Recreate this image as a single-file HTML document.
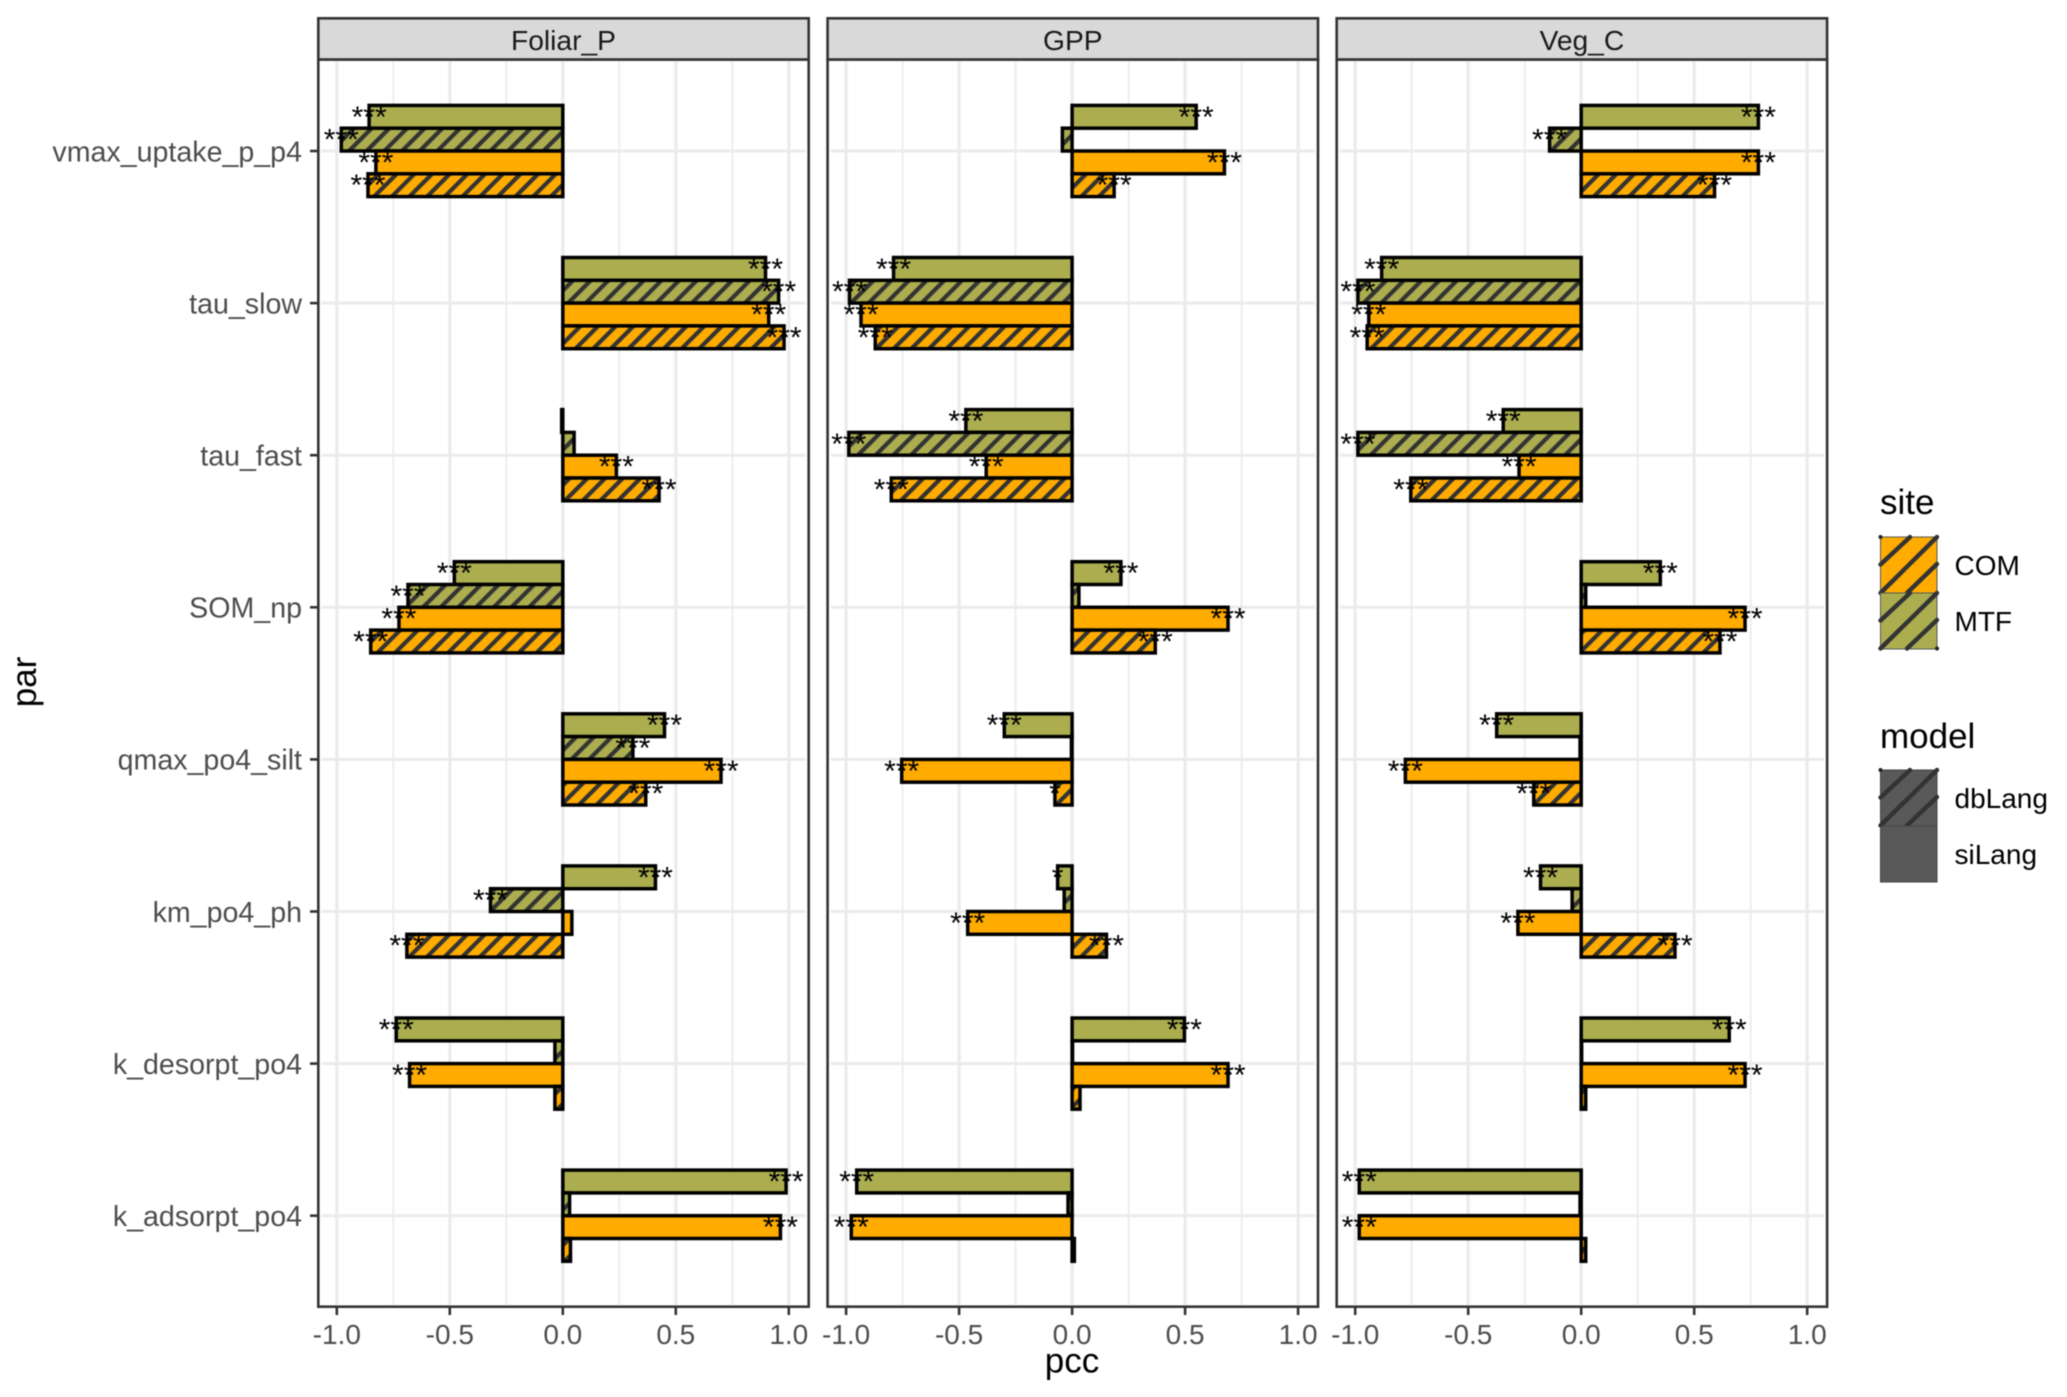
<!DOCTYPE html>
<html lang="en">
<head>
<meta charset="utf-8">
<title>pcc by par, site and model</title>
<style>
html,body{margin:0;padding:0;background:#fff;}
svg{display:block;font-family:"Liberation Sans",Arial,sans-serif;filter:blur(0.4px);}
</style>
</head>
<body>
<svg id="chart" xmlns="http://www.w3.org/2000/svg" width="2067" height="1397" viewBox="0 0 2067 1397">
  <defs>
    <pattern id="hatch" patternUnits="userSpaceOnUse" width="12.5" height="12.5" patternTransform="translate(2 0) rotate(-45)">
      <rect x="0" y="0" width="12.5" height="4.2" fill="#333333"></rect>
    </pattern>
  </defs>
  <rect x="0" y="0" width="2067" height="1397" fill="#ffffff"></rect>
  <g id="panels"></g>
  <g id="yaxis"></g>
  <text x="1072" y="1372.5" font-size="35" text-anchor="middle" fill="#000">pcc</text>
  <text transform="translate(36 682) rotate(-90)" font-size="35" text-anchor="middle" fill="#000">par</text>

  <g>
    <text x="1880" y="514" font-size="35" fill="#000">site</text>
    <g>
      <rect x="1880.5" y="537" width="56.5" height="56" fill="#FFAB00" stroke="#555" stroke-width="1"></rect>
      <g stroke="#333" stroke-width="4.4" stroke-linecap="round">
        <line x1="1880.5" y1="564.5" x2="1910" y2="537"></line>
        <line x1="1880.5" y1="593" x2="1937" y2="537"></line>
        <line x1="1907" y1="593" x2="1937" y2="564"></line>
      </g>
      <circle cx="1880.5" cy="537" r="2" fill="#222"></circle>
      <text x="1954.5" y="575" font-size="28" fill="#000">COM</text>
    </g>
    <g>
      <rect x="1880.5" y="593" width="56.5" height="56" fill="#ABAD4F" stroke="#555" stroke-width="1"></rect>
      <g stroke="#333" stroke-width="4.4" stroke-linecap="round">
        <line x1="1880.5" y1="620.5" x2="1910" y2="593"></line>
        <line x1="1880.5" y1="648.5" x2="1937" y2="593"></line>
        <line x1="1907" y1="648.5" x2="1937" y2="620"></line>
      </g>
      <circle cx="1937" cy="648.5" r="2" fill="#222"></circle>
      <text x="1954.5" y="631" font-size="28" fill="#000">MTF</text>
    </g>
  </g>

  <g>
    <text x="1880" y="748" font-size="35" fill="#000">model</text>
    <g>
      <rect x="1880.5" y="770" width="56.5" height="56" fill="#595959" stroke="#444" stroke-width="1"></rect>
      <g stroke="#333" stroke-width="4.4" stroke-linecap="round">
        <line x1="1880.5" y1="797.5" x2="1910" y2="770"></line>
        <line x1="1880.5" y1="825.5" x2="1937" y2="770"></line>
        <line x1="1907" y1="825.5" x2="1937" y2="797"></line>
      </g>
      <circle cx="1880.5" cy="770" r="2" fill="#222"></circle>
      <text x="1954.5" y="808" font-size="28" fill="#000">dbLang</text>
    </g>
    <g>
      <rect x="1880.5" y="826" width="56.5" height="56" fill="#595959" stroke="#444" stroke-width="1"></rect>
      <text x="1954.5" y="864" font-size="28" fill="#000">siLang</text>
    </g>
  </g>
</svg>

<script>
// ---- data (categories listed top to bottom) ----
const categories = ["vmax_uptake_p_p4","tau_slow","tau_fast","SOM_np","qmax_po4_silt","km_po4_ph","k_desorpt_po4","k_adsorpt_po4"];
const facetNames = ["Foliar_P","GPP","Veg_C"];
const xTickValues = [-1.0,-0.5,0.0,0.5,1.0];
const xTickLabels = ["-1.0","-0.5","0.0","0.5","1.0"];
const xMinorValues = [-0.75,-0.25,0.25,0.75];

const foliarMtfSiLang = [-0.857,0.897,-0.005,-0.48,0.45,0.41,-0.737,0.988];
const foliarMtfDbLang = [-0.98,0.955,0.05,-0.685,0.31,-0.32,-0.035,0.03];
const foliarComSiLang = [-0.827,0.911,0.237,-0.725,0.70,0.04,-0.678,0.963];
const foliarComDbLang = [-0.862,0.979,0.426,-0.85,0.367,-0.69,-0.035,0.034];

const gppMtfSiLang = [0.549,-0.79,-0.47,0.216,-0.30,-0.064,0.497,-0.953];
const gppMtfDbLang = [-0.043,-0.985,-0.988,0.03,-0.003,-0.035,0.002,-0.018];
const gppComSiLang = [0.674,-0.934,-0.38,0.69,-0.754,-0.462,0.69,-0.977];
const gppComDbLang = [0.186,-0.871,-0.80,0.368,-0.076,0.152,0.035,0.01];

const vegMtfSiLang = [0.784,-0.883,-0.345,0.35,-0.374,-0.18,0.655,-0.982];
const vegMtfDbLang = [-0.14,-0.988,-0.988,0.02,-0.005,-0.04,0.002,-0.005];
const vegComSiLang = [0.784,-0.94,-0.275,0.725,-0.778,-0.28,0.725,-0.982];
const vegComDbLang = [0.59,-0.947,-0.754,0.614,-0.21,0.415,0.02,0.02];

const foliarMtfSiSig = ["***","***","","***","***","***","***","***"];
const foliarMtfDbSig = ["***","***","","***","***","***","",""];
const foliarComSiSig = ["***","***","***","***","***","","***","***"];
const foliarComDbSig = ["***","***","***","***","***","***","",""];

const gppMtfSiSig = ["***","***","***","***","***","*","***","***"];
const gppMtfDbSig = ["","***","***","","","","",""];
const gppComSiSig = ["***","***","***","***","***","***","***","***"];
const gppComDbSig = ["***","***","***","***","*","***","",""];

const vegMtfSiSig = ["***","***","***","***","***","***","***","***"];
const vegMtfDbSig = ["***","***","***","","","","",""];
const vegComSiSig = ["***","***","***","***","***","***","***","***"];
const vegComDbSig = ["***","***","***","***","***","***","",""];

const seriesValues = [
  [foliarMtfSiLang,foliarMtfDbLang,foliarComSiLang,foliarComDbLang],
  [gppMtfSiLang,gppMtfDbLang,gppComSiLang,gppComDbLang],
  [vegMtfSiLang,vegMtfDbLang,vegComSiLang,vegComDbLang]
];
const seriesSig = [
  [foliarMtfSiSig,foliarMtfDbSig,foliarComSiSig,foliarComDbSig],
  [gppMtfSiSig,gppMtfDbSig,gppComSiSig,gppComDbSig],
  [vegMtfSiSig,vegMtfDbSig,vegComSiSig,vegComDbSig]
];
const seriesNames = ["mtf-silang","mtf-dblang","com-silang","com-dblang"];

// ---- layout ----
const NS = "http://www.w3.org/2000/svg";
const panelLefts = [318.3,827.6,1336.7];
const panelWidth = 490.4;
const panelTop = 59.5, panelBottom = 1306.7, stripTop = 18.3;
const zeroOffset = 244.5, unitPx = 226;
const catFirstY = 151, catStep = 152.1, barH = 22.8;
const colorOrange = "#FFAB00", colorOlive = "#ABAD4F", borderColor = "#333333";

function xPos(facet, v){ return panelLefts[facet] + zeroOffset + v * unitPx; }
function catY(i){ return catFirstY + i * catStep; }
function barTop(i, s){ return catY(i) + (s - 2) * barH; }

function make(tag, attrs, parent, text){
  const el = document.createElementNS(NS, tag);
  for (const k in attrs) el.setAttribute(k, attrs[k]);
  if (text !== undefined) el.textContent = text;
  parent.appendChild(el);
  return el;
}

const panelsG = document.getElementById("panels");
const yaxisG = document.getElementById("yaxis");

// y axis labels and ticks
categories.forEach(function(cat, i){
  const lab = make("text", {x:302, y:catY(i)+10.3, "font-size":28.6, "text-anchor":"end", fill:"#4d4d4d"}, yaxisG, cat);
  
  
  const tk = make("line", {x1:310, x2:318, y1:catY(i), y2:catY(i), stroke:borderColor, "stroke-width":2.6}, yaxisG);
  
  
});

facetNames.forEach(function(name, f){
  const L = panelLefts[f], R = L + panelWidth;
  const g = make("g", {}, panelsG);
  
  

  // grid
  xMinorValues.forEach(function(v){
    const ln = make("line", {x1:xPos(f,v), x2:xPos(f,v), y1:panelTop+2, y2:panelBottom-2, stroke:"#ebebeb", "stroke-width":1.7}, g);
    
    
  });
  xTickValues.forEach(function(v){
    const ln = make("line", {x1:xPos(f,v), x2:xPos(f,v), y1:panelTop+2, y2:panelBottom-2, stroke:"#ebebeb", "stroke-width":3.2}, g);
    
    
  });
  categories.forEach(function(cat, i){
    const ln = make("line", {x1:L+3, x2:R-3, y1:catY(i), y2:catY(i), stroke:"#ebebeb", "stroke-width":3}, g);
    
    
  });

  // bars
  seriesValues[f].forEach(function(values, s){
    values.forEach(function(v, i){
      const x0 = Math.min(xPos(f,0), xPos(f,v));
      const w = Math.abs(xPos(f,v) - xPos(f,0));
      const y = barTop(i, s);
      const fillColor = s < 2 ? colorOlive : colorOrange;
      const bar = make("rect", {x:x0, y:y, width:w, height:barH, fill:fillColor}, g);
      
      
      if (s === 1 || s === 3) {
        const hatch = make("rect", {x:x0, y:y, width:w, height:barH, fill:"url(#hatch)"}, g);
        
        
      }
      const edge = make("rect", {x:x0, y:y, width:w, height:barH, fill:"none", stroke:"#000", "stroke-width":3.5}, g);
      
      
    });
  });

  // significance stars
  seriesSig[f].forEach(function(sigs, s){
    sigs.forEach(function(sig, i){
      if (!sig) return;
      const v = seriesValues[f][s][i];
      const t = make("text", {x:xPos(f,v), y:barTop(i,s)+barH/2+10, "font-size":30, "text-anchor":"middle", fill:"#000"}, g, sig);
      
      
    });
  });

  // panel border and strip
  const border = make("rect", {x:L, y:panelTop, width:panelWidth, height:panelBottom-panelTop, fill:"none", stroke:borderColor, "stroke-width":2.6}, g);
  
  
  const strip = make("rect", {x:L, y:stripTop, width:panelWidth, height:panelTop-stripTop, fill:"#d9d9d9", stroke:borderColor, "stroke-width":2.6}, g);
  
  
  const stripText = make("text", {x:L+panelWidth/2, y:50, "font-size":28.2, "text-anchor":"middle", fill:"#1a1a1a"}, g, name);
  
  

  // x ticks
  xTickValues.forEach(function(v, k){
    const tk = make("line", {x1:xPos(f,v), x2:xPos(f,v), y1:panelBottom, y2:1315, stroke:borderColor, "stroke-width":2.6}, g);
    
    
    const lab = make("text", {x:xPos(f,v), y:1344, "font-size":28, "text-anchor":"middle", fill:"#4d4d4d"}, g, xTickLabels[k]);
    
    
  });
});
</script>
</body>
</html>
